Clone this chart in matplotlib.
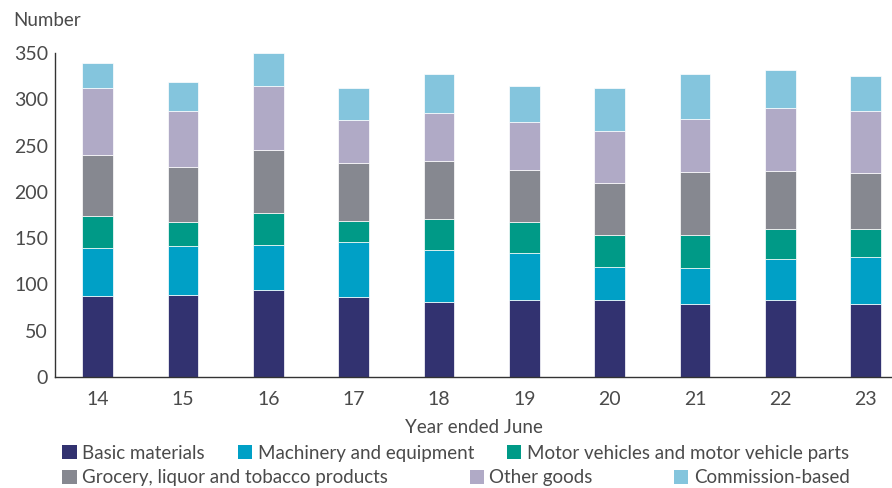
import matplotlib
matplotlib.use("Agg")
import matplotlib.pyplot as plt
import numpy as np
from matplotlib.patches import Patch

years = ["14", "15", "16", "17", "18", "19", "20", "21", "22", "23"]
basic_materials = [87, 88, 94, 86, 81, 83, 83, 79, 83, 79]
machinery = [52, 53, 48, 60, 56, 51, 36, 39, 44, 50]
motor_vehicles = [35, 26, 35, 23, 34, 33, 34, 35, 33, 31]
grocery = [66, 60, 68, 62, 62, 57, 57, 69, 63, 60]
other_goods = [72, 60, 69, 47, 52, 52, 56, 57, 68, 67]
commission = [27, 32, 36, 34, 42, 39, 46, 49, 41, 38]

series_names = ["Basic materials", "Machinery and equipment",
                "Motor vehicles and motor vehicle parts",
                "Grocery, liquor and tobacco products", "Other goods",
                "Commission-based"]
series = [basic_materials, machinery, motor_vehicles, grocery, other_goods, commission]
colors = ["#323270", "#00A0C6", "#009A87", "#868890", "#B0AAC6", "#84C5DD"]

plt.rcParams['font.family'] = ['Lato', 'DejaVu Sans']
text_color = "#4a4a4a"

fig = plt.figure(figsize=(8.92, 4.88), dpi=100)
ax = fig.add_axes([0.0617, 0.228, 0.9383, 0.663])

x = np.arange(len(years))
bottom = np.zeros(len(years))
for vals, c, name in zip(series, colors, series_names):
    ax.bar(x, vals, width=0.36, bottom=bottom, color=c, edgecolor="white",
           linewidth=0.5, label=name)
    bottom += np.array(vals)

ax.set_ylim(0, 350)
ax.set_xlim(-0.5, 9.31)
ax.set_yticks(range(0, 351, 50))
ax.set_xticks(x)
ax.set_xticklabels(years)
for s in ["top", "right"]:
    ax.spines[s].set_visible(False)
for s in ["left", "bottom"]:
    ax.spines[s].set_color("#333333")
    ax.spines[s].set_linewidth(1.0)
ax.tick_params(axis="x", length=0, labelsize=14, colors=text_color, pad=10)
ax.tick_params(axis="y", length=0, labelsize=14, colors=text_color, pad=5)
ax.set_xlabel("Year ended June", fontsize=13.5, color=text_color, labelpad=8)
fig.text(0.0146, 0.958, "Number", fontsize=13.5, color=text_color, va="center", ha="left")

handles = [Patch(facecolor=c, edgecolor="none") for c in colors]
leg_kw = dict(frameon=False, fontsize=13.5, handlelength=0.75, handleheight=0.75,
              handletextpad=0.3, borderpad=0, borderaxespad=0, labelcolor=text_color)
leg1 = fig.legend(handles[:3], series_names[:3], ncol=3, loc="center left",
                  bbox_to_anchor=(0.07, 0.071), columnspacing=1.77, **leg_kw)
leg2 = fig.legend(handles[3:], series_names[3:], ncol=3, loc="center left",
                  bbox_to_anchor=(0.07, 0.021), columnspacing=4.35, **leg_kw)

fig.savefig("out.png", dpi=100)
